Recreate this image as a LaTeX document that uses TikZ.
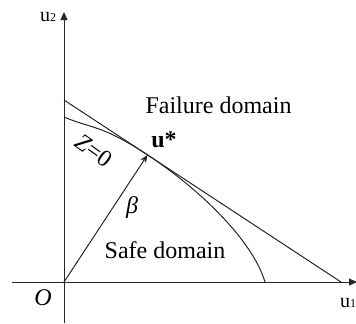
\documentclass[tikz,border=0pt]{standalone}
\usepackage{fontspec}
\setmainfont{Liberation Serif}
\usepackage{tikz}
\usetikzlibrary{arrows.meta,calc}

\begin{document}
\begin{tikzpicture}[
  x=0.5pt, y=0.5pt,
  every node/.style={font=\fontsize{12}{14}\selectfont, inner sep=0pt},
  axisline/.style={black!85, line width=0.5pt, -{Triangle[length=4pt,width=3.5pt]}},
  limitline/.style={black!85, line width=0.5pt},
  betaarrow/.style={black!85, line width=0.5pt, -{Stealth[length=4pt,width=3.2pt]}},
  axislabel/.style={font=\fontsize{10}{12}\selectfont},
]
\useasboundingbox (0,0) rectangle (356,323);

%%% Axes %%%
\coordinate (O) at (64,41);
\coordinate (xstart) at (12,41);
\coordinate (xend) at (357,41);
\coordinate (ystart) at (64,0);
\coordinate (yend) at (64,311);
\draw[axisline] (xstart) -- (xend);
\draw[axisline] (ystart) -- (yend);
\node[axislabel] (u1) at (348,20) {u{\fontsize{6}{6}\selectfont 1}};
\node[axislabel] (u2) at (48,306) {u{\fontsize{6}{6}\selectfont 2}};
\node (origin) at (43,25.5) {\textit{O}};

%%% Tangent (linearised) limit state %%%
\coordinate (ta) at (64,223);
\coordinate (tb) at (341,41);
\draw[limitline] (ta) -- (tb);

% design point: foot of the perpendicular from O
\coordinate (ustar) at ($(ta)!(O)!(tb)$);

%%% Limit state surface Z=0 %%%
\coordinate (za) at (64,206);
\coordinate (zb) at (265,41);
\draw[limitline] (za) .. controls (92,194) and ($(ustar)!28pt!(ta)$) .. (ustar)
  .. controls ($(ustar)!30pt!(tb)$) and (252,84) .. (zb);

%%% Reliability index %%%
\draw[betaarrow] (O) -- (ustar);

%%% Labels %%%
\node (ulabel) at (164,183) {\textbf{u*}};
\node[rotate=-36] (zlabel) at (94,172) {\textit{Z}=0};
\node (beta) at (132,115) {\textit{β}};
\node (failure) at (218.5,218) {Failure domain};
\node (safe) at (165,73) {Safe domain};

\end{tikzpicture}
\end{document}
